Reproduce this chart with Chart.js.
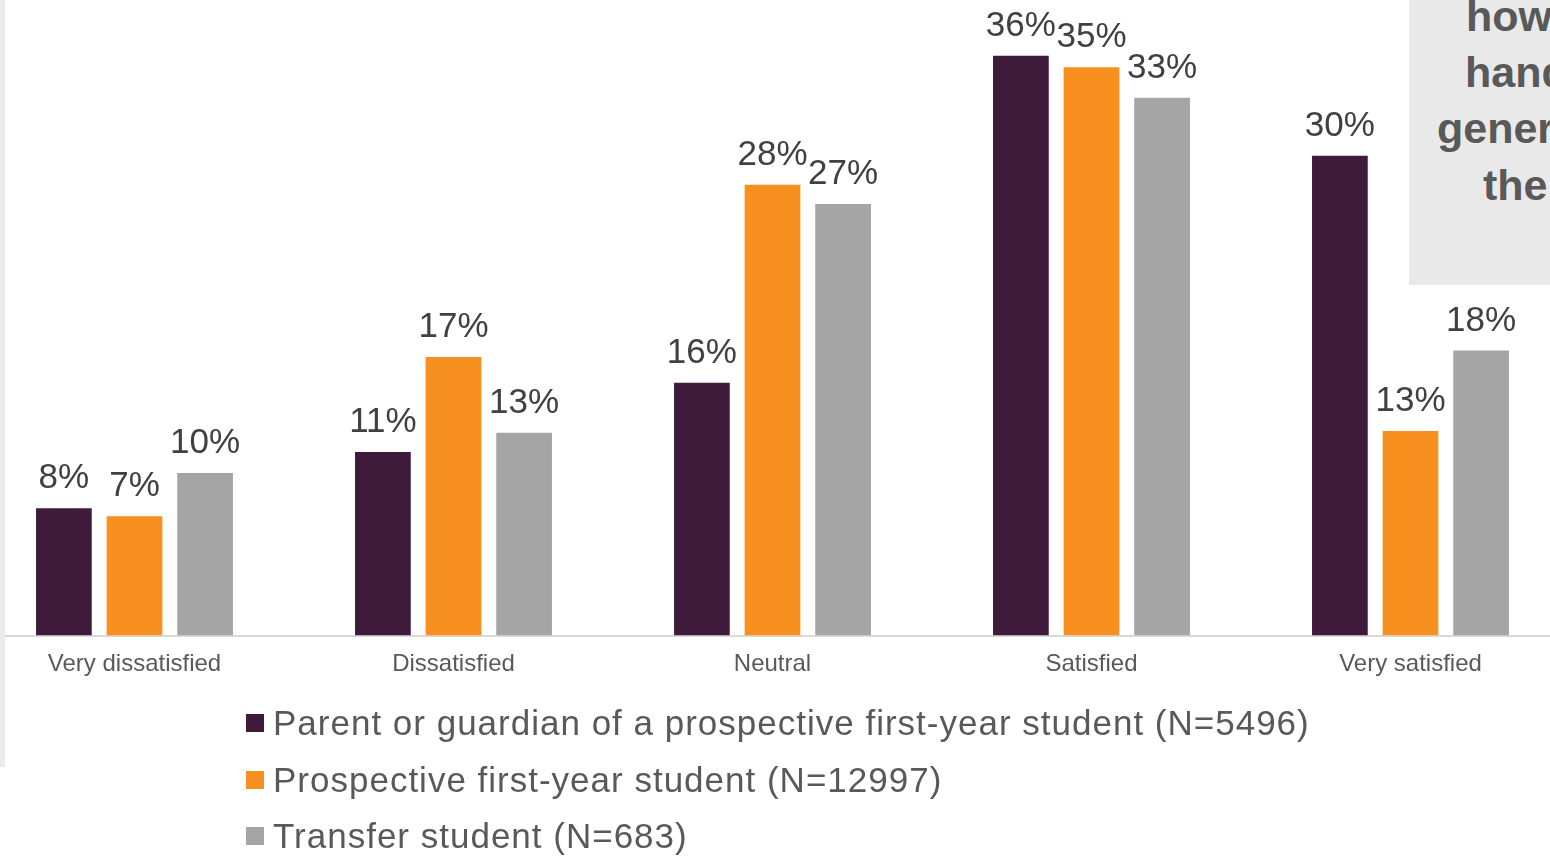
<!DOCTYPE html>
<html>
<head>
<meta charset="utf-8">
<script src="https://cdn.jsdelivr.net/npm/chart.js@4.4.1/dist/chart.umd.min.js"></script>
<style>
body{margin:0;background:#fff;overflow:hidden;width:1550px;height:857px;position:relative;font-family:'Liberation Sans',Arial,sans-serif;}
#strip{position:absolute;left:0;top:0;width:5px;height:767px;background:#ebebeb;z-index:3;}
#wrap{position:absolute;left:-24.7px;top:0;width:1595px;height:700px;}
#note{position:absolute;left:1409px;top:0;width:141px;height:285px;background:#e9e9e9;overflow:hidden;z-index:2;color:#595959;font-weight:bold;font-size:43px;}
#note span{position:absolute;white-space:nowrap;line-height:1;}
#legend{position:absolute;left:246px;top:695px;z-index:2;}
.row{display:flex;align-items:center;height:56.5px;}
.box{width:18px;height:18px;margin-right:9px;}
.txt{font-size:35px;color:#595959;line-height:56.5px;white-space:nowrap;letter-spacing:1px;}
</style>
</head>
<body>
<div id="strip"></div>
<div id="wrap"><canvas id="satchart"></canvas></div>
<div id="note">
  <span style="left:57px;top:-5px">how</span>
  <span style="left:56px;top:51px">hand</span>
  <span style="left:28px;top:107px">gener</span>
  <span style="left:74px;top:164px">the</span>
</div>
<div id="legend"></div>
<script>
/** nhãn trục x */
const categories = ["Very dissatisfied", "Dissatisfied", "Neutral", "Satisfied", "Very satisfied"];
const seriesNames = [
    "Parent or guardian of a prospective first-year student (N=5496)",
    "Prospective first-year student (N=12997)",
    "Transfer student (N=683)"
];
const parentValues = [7.9, 11.4, 15.7, 36.0, 29.8];
const prospectiveValues = [7.4, 17.3, 28.0, 35.3, 12.7];
const transferValues = [10.1, 12.6, 26.8, 33.4, 17.7];
const seriesColors = ["#3e1a3b", "#f7901e", "#a5a5a5"];

Chart.defaults.font.family = "'Liberation Sans', Arial, sans-serif";

/** vẽ nhãn % trên đầu cột */
const barLabels = {
    id: "barLabels",
    afterDatasetsDraw(chart) {
        const ctx = chart.ctx;
        ctx.save();
        ctx.font = "35px 'Liberation Sans', Arial, sans-serif";
        ctx.fillStyle = "#404040";
        ctx.textAlign = "center";
        ctx.textBaseline = "alphabetic";
        chart.data.datasets.forEach((ds, i) => {
            chart.getDatasetMeta(i).data.forEach((bar, j) => {
                ctx.fillText(Math.round(ds.data[j]) + "%", bar.x, bar.y - 20);
            });
        });
        ctx.restore();
    }
};

const allValues = [parentValues, prospectiveValues, transferValues];
const datasets = allValues.map((vals, i) => ({
    label: seriesNames[i],
    data: vals,
    backgroundColor: seriesColors[i],
    categoryPercentage: 0.664,
    barPercentage: 0.789
}));

var satChart = new Chart("satchart", {
    type: "bar",
    data: { labels: categories, datasets: datasets },
    options: {
        responsive: true,
        maintainAspectRatio: false,
        animation: false,
        layout: { padding: 0 },
        plugins: {
            legend: { display: false },
            tooltip: { enabled: false }
        },
        scales: {
            x: {
                grid: { display: false, drawTicks: false },
                border: { display: true, color: "#d9d9d9", width: 2 },
                ticks: { color: "#595959", font: { size: 24 }, padding: 14, maxRotation: 0 },
                afterFit: function (s) { s.height = 64.5; }
            },
            y: {
                display: false,
                min: 0,
                max: 39.47
            }
        }
    },
    plugins: [barLabels]
});

// chú thích dạng cột dọc
const legendDiv = document.getElementById("legend");
satChart.data.datasets.forEach(ds => {
    const row = document.createElement("div");
    row.className = "row";
    const box = document.createElement("div");
    box.className = "box";
    box.style.background = ds.backgroundColor;
    const txt = document.createElement("div");
    txt.className = "txt";
    txt.innerText = ds.label;
    row.appendChild(box);
    row.appendChild(txt);
    legendDiv.appendChild(row);
});
</script>
</body>
</html>
